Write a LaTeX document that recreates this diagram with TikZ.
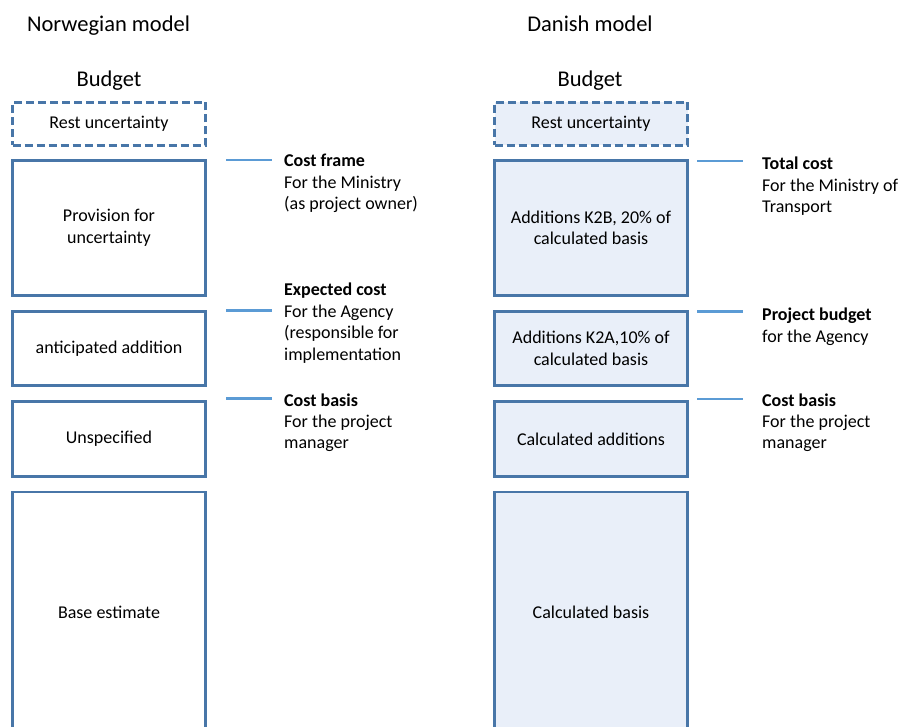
\documentclass[tikz,border=0pt]{standalone}
\usepackage{fontspec}
\setmainfont{Carlito}
\definecolor{boxline}{RGB}{72,118,168}
\definecolor{boxfill}{RGB}{233,239,249}
\definecolor{leadline}{RGB}{91,155,213}

\begin{document}
\begin{tikzpicture}[x=1pt,y=-1pt]
	\tikzset{blk/.style={
		rectangle, draw=boxline, line width=2.6pt, minimum width=193pt, inner sep=0pt, align=center, font=\fontsize{18}{21.5}\selectfont
	}}
	\tikzset{blk_dk/.style={
		blk, fill=boxfill
	}}
	\tikzset{rest/.style={
		dash pattern=on 8pt off 4pt
	}}
	\tikzset{heading/.style={
		anchor=base, inner sep=0pt, font=\fontsize{22.5}{27}\selectfont
	}}
	\tikzset{role/.style={
		anchor=base west, align=left, inner sep=0pt, font=\fontsize{18}{21.5}\selectfont
	}}
	\tikzset{lead/.style={
		draw=leadline, line width=2.2pt
	}}

	\useasboundingbox (0,0) rectangle (903,727);
	\clip (0,0) rectangle (903,727);

	% Headings
	\node (NO_title) [heading] at (108.5,31.7) {Norwegian model};
	\node (NO_budget) [heading] at (109,86.7) {Budget};
	\node (DK_title) [heading] at (590,31.7) {Danish model};
	\node (DK_budget) [heading] at (590,86.7) {Budget};

	% Norwegian model
	\node (NO_rest) [blk, rest, minimum height=43pt] at (109,124) {Rest uncertainty};
	\node (NO_prov) [blk, minimum height=135pt] at (109,228) {Provision for\\uncertainty};
	\node (NO_antic) [blk, minimum height=74pt] at (109,348.5) {anticipated addition};
	\node (NO_unspec) [blk, minimum height=75pt] at (109,439) {Unspecified};
	\node (NO_base) [blk, minimum height=241pt] at (109,612.5) {Base estimate};

	% Danish model
	\node (DK_rest) [blk_dk, rest, minimum height=43pt] at (591,124) {Rest uncertainty};
	\node (DK_k2b) [blk_dk, minimum height=135pt] at (591,228) {Additions K2B, 20\% of\\calculated basis};
	\node (DK_k2a) [blk_dk, minimum height=74pt] at (591,348.5) {Additions K2A,10\% of\\calculated basis};
	\node (DK_calcadd) [blk_dk, minimum height=75pt] at (591,439) {Calculated additions};
	\node (DK_basis) [blk_dk, minimum height=241pt] at (591,612.5) {Calculated basis};

	% Leader lines links
	\coordinate (NO_frame_a) at (226,160);   \coordinate (NO_frame_b) at (272,160);   % oben
	\coordinate (NO_exp_a) at (226,310.5);   \coordinate (NO_exp_b) at (272,310.5);   % mitte
	\coordinate (NO_basis_a) at (226,398.5); \coordinate (NO_basis_b) at (272,398.5); % unten

	% Leader lines rechts
	\coordinate (DK_total_a) at (697,161);    \coordinate (DK_total_b) at (743,161);    % oben
	\coordinate (DK_proj_a) at (697,311.5);   \coordinate (DK_proj_b) at (743,311.5);   % mitte
	\coordinate (DK_basis_a) at (697,399);    \coordinate (DK_basis_b) at (743,399);    % unten

	\draw[lead] (NO_frame_a) -- (NO_frame_b);
	\draw[lead] (NO_exp_a) -- (NO_exp_b);
	\draw[lead] (NO_basis_a) -- (NO_basis_b);
	\draw[lead] (DK_total_a) -- (DK_total_b);
	\draw[lead] (DK_proj_a) -- (DK_proj_b);
	\draw[lead] (DK_basis_a) -- (DK_basis_b);

	% Labels links (base = last line)
	\node (NO_frame) [role] at (284,210) {\textbf{Cost frame}\\For the Ministry\\(as project owner)};
	\node (NO_exp) [role] at (284,360.5) {\textbf{Expected cost}\\For the Agency\\(responsible for\\implementation};
	\node (NO_basis) [role] at (284,449) {\textbf{Cost basis}\\For the project\\manager};

	% Labels rechts
	\node (DK_total) [role] at (762,213) {\textbf{Total cost}\\For the Ministry of\\Transport};
	\node (DK_proj) [role] at (762,342.5) {\textbf{Project budget}\\for the Agency};
	\node (DK_basis) [role] at (762,449) {\textbf{Cost basis}\\For the project\\manager};
\end{tikzpicture}
\end{document}
